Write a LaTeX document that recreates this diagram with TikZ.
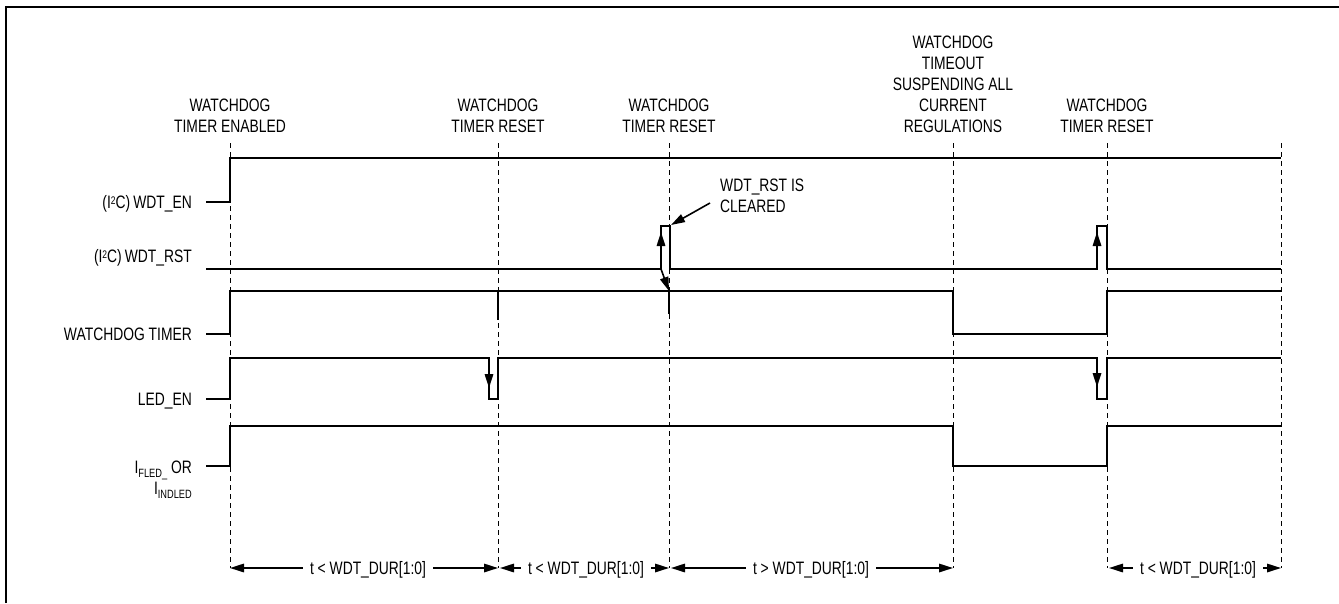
\documentclass[tikz,border=0pt]{standalone}
\usepackage{fontspec}
\setmainfont[FakeStretch=0.77]{Liberation Sans}
\usetikzlibrary{arrows.meta}
\newcommand{\mysub}[1]{\raisebox{-4pt}{\fontsize{12}{12}\selectfont #1}}
\newcommand{\mysup}[1]{\raisebox{4pt}{\fontsize{11}{11}\selectfont #1}}
\begin{document}
\begin{tikzpicture}[x=1pt,y=-1pt,
  sig/.style={line width=1.6pt},
  guide/.style={line width=0.9pt, dash pattern=on 5pt off 4pt},
  tip/.style={-{Triangle[length=14pt,width=8.5pt]}, line width=1.6pt},
  lbl/.style={inner sep=0pt, font=\fontsize{18}{21}\selectfont},
  dur/.style={lbl, inner xsep=7pt, inner ysep=0pt, text height=12.5pt, text depth=0pt},
  frame/.style={line width=2.6pt}
]
\useasboundingbox (0,0) rectangle (1339,603);
\draw[frame] (6,603) -- (6,7) -- (1339,7);

% event guide coordinates
\foreach \n/\x in {1/230,2/498,3/669,4/953,5/1107,6/1281}{
  \coordinate (E\n t) at (\x,143);
  \coordinate (E\n b) at (\x,568);
  \draw[guide] (E\n t) -- (E\n b);
}

% top labels (base = last line baseline)
\node[lbl, anchor=base, align=center] (top1) at (230,132) {WATCHDOG\\TIMER ENABLED};
\node[lbl, anchor=base, align=center] (top2) at (498,132) {WATCHDOG\\TIMER RESET};
\node[lbl, anchor=base, align=center] (top3) at (669,132) {WATCHDOG\\TIMER RESET};
\node[lbl, anchor=base, align=center] (top4) at (953,132) {WATCHDOG\\TIMEOUT\\SUSPENDING ALL\\CURRENT\\REGULATIONS};
\node[lbl, anchor=base, align=center] (top5) at (1107,132) {WATCHDOG\\TIMER RESET};

% left labels
\node[lbl, anchor=base east] (l1) at (192,208) {(I\mysup{2}C)\,WDT\_EN};
\node[lbl, anchor=base east] (l2) at (192,262) {(I\mysup{2}C)\,WDT\_RST};
\node[lbl, anchor=base east] (l3) at (192,340) {WATCHDOG TIMER};
\node[lbl, anchor=base east] (l4) at (192,405) {LED\_EN};
\node[lbl, anchor=base east, align=right] (l5) at (192,494) {I\mysub{FLED\_} OR\\I\mysub{INDLED}};

% waveforms
\draw[sig] (206,202) -- (230,202) -- (230,158) -- (1281,158);
\draw[sig] (206,269) -- (661,269) -- (661,226) -- (670,226) -- (670,269) -- (1097,269)
  -- (1097,226) -- (1107,226) -- (1107,269) -- (1281,269);
\draw[sig] (206,334) -- (230,334) -- (230,291) -- (953,291) -- (953,334) -- (1107,334)
  -- (1107,291) -- (1281,291);
\draw[sig] (498,291) -- (498,320);
\draw[sig] (669,291) -- (669,314);
\draw[sig] (206,399) -- (230,399) -- (230,358) -- (489,358) -- (489,399) -- (498,399)
  -- (498,358) -- (1097,358) -- (1097,399) -- (1107,399) -- (1107,358) -- (1281,358);
\draw[sig] (206,466) -- (230,466) -- (230,426) -- (953,426) -- (953,466) -- (1107,466)
  -- (1107,426) -- (1281,426);

% cause arrows
\coordinate (rst1) at (661,269);
\coordinate (rst2) at (1097,269);
\draw[tip] (rst1) -- (661,232);
\draw[tip] (rst2) -- (1097,232);
\draw[tip] (rst1) -- (669,291);
\draw[tip] (489,358) -- (489,388);
\draw[tip] (1097,358) -- (1097,387);

% callout
\node[lbl, anchor=base west, align=left] (clr) at (720,212) {WDT\_RST IS\\CLEARED};
\coordinate (clrA) at (710,203);
\coordinate (clrB) at (671,225);
\draw[tip] (clrA) -- (clrB);

% durations
\node[dur] (d1) at (368,568) {t < WDT\_DUR[1:0]};
\node[dur] (d2) at (586,568) {t < WDT\_DUR[1:0]};
\node[dur] (d3) at (811,568) {t > WDT\_DUR[1:0]};
\node[dur] (d4) at (1198,568) {t < WDT\_DUR[1:0]};
\draw[tip] (d1.west) -- (E1b);
\draw[tip] (d1.east) -- (E2b);
\draw[tip] (d2.west) -- ([xshift=2pt]E2b);
\draw[tip] (d2.east) -- (E3b);
\draw[tip] (d3.west) -- ([xshift=2pt]E3b);
\draw[tip] (d3.east) -- (E4b);
\draw[tip] (d4.west) -- ([xshift=2pt]E5b);
\draw[tip] (d4.east) -- (E6b);
\end{tikzpicture}
\end{document}
